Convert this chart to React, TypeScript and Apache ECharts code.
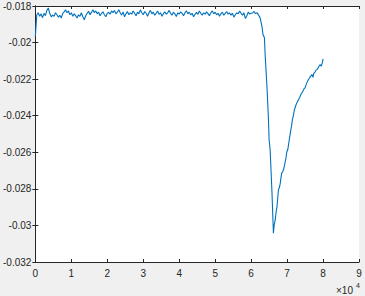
import React, { useEffect, useRef } from "react";
import * as echarts from "echarts";

// Flat part: samples every 400 from x = 0 to 60000
const flatStart = 0;
const flatStep = 400;
const flatValues = [
  -0.01965, -0.01848, -0.01837, -0.01856, -0.01843, -0.01864, -0.0184, -0.01853, -0.01824, -0.01811,
  -0.0184, -0.01859, -0.0185, -0.01856, -0.01837, -0.01848, -0.01861, -0.01851, -0.01866, -0.0184,
  -0.01832, -0.01821, -0.01837, -0.01827, -0.01848, -0.01837, -0.01856, -0.01843, -0.01853, -0.01866,
  -0.01848, -0.01856, -0.01837, -0.01859, -0.01875, -0.01853, -0.0184, -0.01829, -0.01848, -0.01835,
  -0.01821, -0.01837, -0.01827, -0.01843, -0.01834, -0.01853, -0.0184, -0.01832, -0.01848, -0.01859,
  -0.0184, -0.01834, -0.01845, -0.01827, -0.01837, -0.01824, -0.01843, -0.01834, -0.01821, -0.01837,
  -0.0185, -0.01832, -0.01859, -0.01843, -0.0183, -0.01848, -0.01837, -0.01845, -0.01827, -0.0184,
  -0.01853, -0.01834, -0.01843, -0.01821, -0.01837, -0.01848, -0.0183, -0.0184, -0.01856, -0.01837,
  -0.01824, -0.01843, -0.01834, -0.0185, -0.0184, -0.01827, -0.01846, -0.01837, -0.01856, -0.01842,
  -0.01832, -0.01845, -0.01837, -0.01824, -0.0184, -0.0185, -0.01834, -0.01843, -0.01858, -0.01837,
  -0.01845, -0.01832, -0.0184, -0.01853, -0.01837, -0.01826, -0.01843, -0.01834, -0.01848, -0.0184,
  -0.01859, -0.01845, -0.01835, -0.01846, -0.01827, -0.0184, -0.0185, -0.01837, -0.01845, -0.01832,
  -0.01842, -0.01853, -0.01837, -0.01827, -0.01843, -0.01834, -0.01848, -0.0184, -0.01856, -0.01843,
  -0.01834, -0.0185, -0.0184, -0.0183, -0.01845, -0.01837, -0.0185, -0.0184, -0.01861, -0.01848,
  -0.01837, -0.01843, -0.01827, -0.0184, -0.0185, -0.01837, -0.01869, -0.01853, -0.01834, -0.01843,
  -0.0184,
];

// Drop part
const dropX = [60400, 60800, 61200, 61600, 62000, 62500, 63000, 63300, 63700, 63900, 64400, 64800, 65000, 65300, 65800, 66200];
const dropY = [-0.01838, -0.0183, -0.01842, -0.01836, -0.01847, -0.01865, -0.0191, -0.01956, -0.01974, -0.02066, -0.0224, -0.0241, -0.0253, -0.0259, -0.0282, -0.03043];

// Recovery part
const recoveryX = [
  66400, 66700, 67000, 67200, 67400, 67600, 67900, 68100, 68300, 68500, 68800, 69000, 69300, 69500, 69700, 69900,
  70200, 70400, 70700, 70900, 71200, 71500, 71800, 72000, 72200, 72500, 72700, 73100, 73500, 73800, 74100, 74500,
  74800, 75000, 75300, 75600, 75900, 76200, 76500, 76900, 77200, 77400, 77800, 78100, 78300, 78600, 78900, 79200,
  79500, 79800, 80000,
];
const recoveryY = [
  -0.03, -0.0297, -0.0292, -0.02897, -0.0285, -0.02805, -0.0279, -0.02769, -0.0274, -0.02714, -0.02705, -0.02696,
  -0.0267, -0.0265, -0.0263, -0.026, -0.02585, -0.02559, -0.0252, -0.02495, -0.0246, -0.0242, -0.02395, -0.0237,
  -0.02358, -0.0234, -0.0233, -0.02315, -0.023, -0.02285, -0.02276, -0.02262, -0.0225, -0.02248, -0.0223, -0.02215,
  -0.02203, -0.02195, -0.02185, -0.02175, -0.0219, -0.0217, -0.0216, -0.0215, -0.02148, -0.0214, -0.02128, -0.0212,
  -0.0213, -0.0211, -0.02089,
];

const xTicks = { min: 0, max: 90000, interval: 10000 };
const yTicks = { min: -0.032, max: -0.018, interval: 0.002 };

const AXIS_COLOR = "#262626";
const FONT = "'Liberation Sans', Arial, sans-serif";

export default function App() {
  const ref = useRef<HTMLDivElement>(null);
  useEffect(() => {
    if (!ref.current) return;
    const chart = echarts.init(ref.current, undefined, { renderer: "svg" });
    const data: [number, number][] = [];
    flatValues.forEach((v, i) => data.push([flatStart + i * flatStep, v]));
    dropX.forEach((x, i) => data.push([x, dropY[i]]));
    recoveryX.forEach((x, i) => data.push([x, recoveryY[i]]));

    const axisLine = { show: true, lineStyle: { color: AXIS_COLOR, width: 1 } };
    const axisTick = { show: true, inside: true, length: 3, lineStyle: { color: AXIS_COLOR, width: 1 } };

    chart.setOption({
      animation: false,
      backgroundColor: "#f0f0f0",
      grid: { left: 34, right: 6, top: 6, bottom: 34, show: true, backgroundColor: "#ffffff", borderWidth: 0 },
      xAxis: [
        {
          type: "value",
          ...xTicks,
          position: "bottom",
          axisLine,
          axisTick,
          splitLine: { show: false },
          axisLabel: {
            color: AXIS_COLOR,
            fontSize: 10,
            fontFamily: FONT,
            margin: 6,
            formatter: (v: number) => String(Math.round(v / 10000)),
          },
        },
        {
          type: "value",
          ...xTicks,
          position: "top",
          axisLine,
          axisTick,
          splitLine: { show: false },
          axisLabel: { show: false },
        },
      ],
      yAxis: [
        {
          type: "value",
          ...yTicks,
          position: "left",
          axisLine,
          axisTick,
          splitLine: { show: false },
          axisLabel: {
            color: AXIS_COLOR,
            fontSize: 10,
            fontFamily: FONT,
            margin: 4,
            formatter: (v: number) => String(+v.toFixed(3)),
          },
        },
        {
          type: "value",
          ...yTicks,
          position: "right",
          axisLine,
          axisTick,
          splitLine: { show: false },
          axisLabel: { show: false },
        },
      ],
      series: [
        {
          type: "line",
          data,
          xAxisIndex: 0,
          yAxisIndex: 0,
          showSymbol: false,
          symbol: "none",
          lineStyle: { color: "#0072BD", width: 1.1 },
        },
      ],
      graphic: [
        {
          type: "text",
          x: 336,
          y: 285,
          style: { text: "×10", fontSize: 10, fontFamily: FONT, fill: AXIS_COLOR, verticalAlign: "top" },
        },
        {
          type: "text",
          x: 356,
          y: 282,
          style: { text: "4", fontSize: 7, fontFamily: FONT, fill: AXIS_COLOR, verticalAlign: "top" },
        },
      ],
    });
    return () => chart.dispose();
  }, []);
  return <div ref={ref} style={{ position: "fixed", left: 0, top: 0, width: 365, height: 296 }} />;
}
